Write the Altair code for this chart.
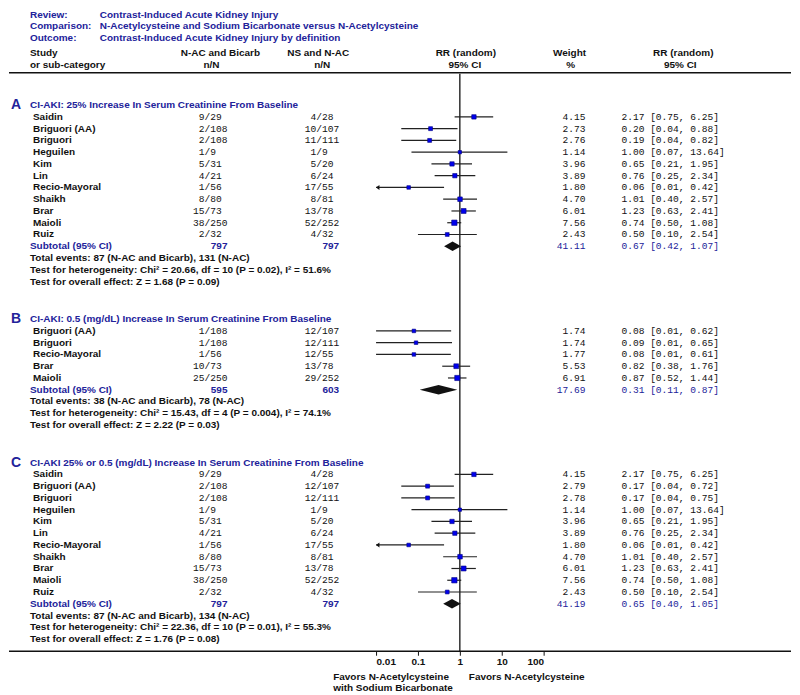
import altair as alt
import pandas as pd

NAVY = "#22229a"
BLACK = "#111111"
SANS = "Liberation Sans"
MONO = "Liberation Mono"
W, H = 784, 644

# ---------------- data ----------------
sec_letters = ["A", "B", "C"]
sec_titles = [
    "CI-AKI: 25% Increase In Serum Creatinine From Baseline",
    "CI-AKI: 0.5 (mg/dL) Increase In Serum Creatinine From Baseline",
    "CI-AKI 25% or 0.5 (mg/dL) Increase In Serum Creatinine From Baseline",
]

a_names = ["Saidin", "Briguori (AA)", "Briguori", "Heguilen", "Kim", "Lin",
           "Recio-Mayoral", "Shaikh", "Brar", "Maioli", "Ruiz"]
a_e1 = [9, 2, 2, 1, 5, 4, 1, 8, 15, 38, 2]
a_n1 = [29, 108, 108, 9, 31, 21, 56, 80, 73, 250, 32]
a_e2 = [4, 10, 11, 1, 5, 6, 17, 8, 13, 52, 4]
a_n2 = [28, 107, 111, 9, 20, 24, 55, 81, 78, 252, 32]
a_w = [4.15, 2.73, 2.76, 1.14, 3.96, 3.89, 1.80, 4.70, 6.01, 7.56, 2.43]
a_rr = [2.17, 0.20, 0.19, 1.00, 0.65, 0.76, 0.06, 1.01, 1.23, 0.74, 0.50]
a_lo = [0.75, 0.04, 0.04, 0.07, 0.21, 0.25, 0.01, 0.40, 0.63, 0.50, 0.10]
a_hi = [6.25, 0.88, 0.82, 13.64, 1.95, 2.34, 0.42, 2.57, 2.41, 1.08, 2.54]
a_arrow = [False, False, False, False, False, False, True, False, False, False, False]

b_names = ["Briguori (AA)", "Briguori", "Recio-Mayoral", "Brar", "Maioli"]
b_e1 = [1, 1, 1, 10, 25]
b_n1 = [108, 108, 56, 73, 250]
b_e2 = [12, 12, 12, 13, 29]
b_n2 = [107, 111, 55, 78, 252]
b_w = [1.74, 1.74, 1.77, 5.53, 6.91]
b_rr = [0.08, 0.09, 0.08, 0.82, 0.87]
b_lo = [0.01, 0.01, 0.01, 0.38, 0.52]
b_hi = [0.62, 0.65, 0.61, 1.76, 1.44]
b_arrow = [False, False, False, False, False]

c_names = ["Saidin", "Briguori (AA)", "Briguori", "Heguilen", "Kim", "Lin",
           "Recio-Mayoral", "Shaikh", "Brar", "Maioli", "Ruiz"]
c_e1 = [9, 2, 2, 1, 5, 4, 1, 8, 15, 38, 2]
c_n1 = [29, 108, 108, 9, 31, 21, 56, 80, 73, 250, 32]
c_e2 = [4, 12, 12, 1, 5, 6, 17, 8, 13, 52, 4]
c_n2 = [28, 107, 111, 9, 20, 24, 55, 81, 78, 252, 32]
c_w = [4.15, 2.79, 2.78, 1.14, 3.96, 3.89, 1.80, 4.70, 6.01, 7.56, 2.43]
c_rr = [2.17, 0.17, 0.17, 1.00, 0.65, 0.76, 0.06, 1.01, 1.23, 0.74, 0.50]
c_lo = [0.75, 0.04, 0.04, 0.07, 0.21, 0.25, 0.01, 0.40, 0.63, 0.50, 0.10]
c_hi = [6.25, 0.72, 0.75, 13.64, 1.95, 2.34, 0.42, 2.57, 2.41, 1.08, 2.54]
c_arrow = [False, False, False, False, False, False, True, False, False, False, False]

sub_tot1 = [797, 595, 797]
sub_tot2 = [797, 603, 797]
sub_w = [41.11, 17.69, 41.19]
sub_rr = [0.67, 0.31, 0.65]
sub_lo = [0.42, 0.11, 0.40]
sub_hi = [1.07, 0.87, 1.05]

sum_lines = [
    ["Total events: 87 (N-AC and Bicarb), 131 (N-AC)",
     "Test for heterogeneity: Chi\u00b2 = 20.66, df = 10 (P = 0.02), I\u00b2 = 51.6%",
     "Test for overall effect: Z = 1.68 (P = 0.09)"],
    ["Total events: 38 (N-AC and Bicarb), 78 (N-AC)",
     "Test for heterogeneity: Chi\u00b2 = 15.43, df = 4 (P = 0.004), I\u00b2 = 74.1%",
     "Test for overall effect: Z = 2.22 (P = 0.03)"],
    ["Total events: 87 (N-AC and Bicarb), 134 (N-AC)",
     "Test for heterogeneity: Chi\u00b2 = 22.36, df = 10 (P = 0.01), I\u00b2 = 55.3%",
     "Test for overall effect: Z = 1.76 (P = 0.08)"],
]

axis_ticks = [0.01, 0.1, 1, 10, 100]

# ---------------- build tables ----------------
sections = [
    (a_names, a_e1, a_n1, a_e2, a_n2, a_w, a_rr, a_lo, a_hi, a_arrow),
    (b_names, b_e1, b_n1, b_e2, b_n2, b_w, b_rr, b_lo, b_hi, b_arrow),
    (c_names, c_e1, c_n1, c_e2, c_n2, c_w, c_rr, c_lo, c_hi, c_arrow),
]
GAP = 3.2
study_rows, sub_rows, head_rows, line_rows, diamond = [], [], [], [], []
r = 0.0
for si, (nm, e1, n1, e2, n2, w, rr, lo, hi, ar) in enumerate(sections):
    head_rows.append({"row": r, "letter": sec_letters[si], "title": sec_titles[si]})
    for i in range(len(nm)):
        study_rows.append({
            "row": r + 1 + i, "name": nm[i],
            "num1": str(e1[i]), "den1": "/" + str(n1[i]),
            "num2": str(e2[i]), "den2": "/" + str(n2[i]),
            "w": w[i], "wtxt": f"{w[i]:.2f}",
            "rr": rr[i], "lo": lo[i], "hi": hi[i], "arrow": ar[i],
            "ci": f"{rr[i]:.2f} [{lo[i]:.2f}, {hi[i]:.2f}]",
        })
    rs = r + 1 + len(nm)
    sub_rows.append({
        "row": rs, "label": "Subtotal (95% CI)",
        "t1": str(sub_tot1[si]), "t2": str(sub_tot2[si]),
        "wtxt": f"{sub_w[si]:.2f}",
        "ci": f"{sub_rr[si]:.2f} [{sub_lo[si]:.2f}, {sub_hi[si]:.2f}]",
    })
    diamond += [
        {"g": si, "x": sub_lo[si], "y1": rs, "y2": rs},
        {"g": si, "x": sub_rr[si], "y1": rs - 0.4, "y2": rs + 0.4},
        {"g": si, "x": sub_hi[si], "y1": rs, "y2": rs},
    ]
    for j, t in enumerate(sum_lines[si]):
        line_rows.append({"row": rs + 1 + j, "text": t})
    r = rs + 3 + GAP

studies = pd.DataFrame(study_rows)
subs = pd.DataFrame(sub_rows)
heads = pd.DataFrame(head_rows)
lines = pd.DataFrame(line_rows)
dia = pd.DataFrame(diamond)
one = pd.DataFrame({"v": [1]})

ymax = r - 3 - GAP + 2  # last summary row
yscale = alt.Scale(domain=[0, ymax], range=[96.5, 620])
xscale = alt.Scale(type="log", domain=[0.01, 100], range=[368, 536])
xaxis = alt.Axis(values=axis_ticks, format="~g", title=None, domain=False, grid=False,
                 ticks=True, tickSize=4, tickColor=BLACK, tickWidth=1,
                 labelFont=SANS, labelFontSize=10, labelFontWeight="bold",
                 labelColor=BLACK, labelPadding=1)
Y = alt.Y("row:Q", scale=yscale, axis=None)


def col_text(df, field, x, align="left", font=SANS, size=10, weight="bold", color=BLACK):
    return alt.Chart(df).mark_text(
        align=align, baseline="middle", font=font, fontSize=size,
        fontWeight=weight, color=color,
    ).encode(x=alt.value(x), y=Y, text=f"{field}:N")


dummy = pd.DataFrame({"k": [0]})


def fixed(text, x, y, align="left", color=BLACK, size=10):
    return alt.Chart(dummy).mark_text(
        text=text, align=align, baseline="middle", font=SANS, fontSize=size,
        fontWeight="bold", color=color,
    ).encode(x=alt.value(x), y=alt.value(y))


layers = []

# top header block
layers += [
    fixed("Review:", 21, 6, color=NAVY),
    fixed("Comparison:", 21, 17.5, color=NAVY),
    fixed("Outcome:", 21, 29, color=NAVY),
    fixed("Contrast-Induced Acute Kidney Injury", 91, 6, color=NAVY),
    fixed("N-Acetylcysteine and Sodium Bicarbonate versus N-Acetylcysteine", 91, 17.5, color=NAVY),
    fixed("Contrast-Induced Acute Kidney Injury by definition", 91, 29, color=NAVY),
    fixed("Study", 21, 44),
    fixed("or sub-category", 21, 56),
    fixed("N-AC and Bicarb", 212, 44, align="center"),
    fixed("n/N", 203, 56, align="center"),
    fixed("NS and N-AC", 310, 44, align="center"),
    fixed("n/N", 314, 56, align="center"),
    fixed("RR (random)", 458, 44, align="center"),
    fixed("95% CI", 457, 56, align="center"),
    fixed("Weight", 562, 44, align="center"),
    fixed("%", 563, 56, align="center"),
    fixed("RR (random)", 676, 44, align="center"),
    fixed("95% CI", 673, 56, align="center"),
    fixed("Favors N-Acetylcysteine", 325, 670),
    fixed("with Sodium Bicarbonate", 325, 681),
    fixed("Favors N-Acetylcysteine", 461, 670),
]

# horizontal rules (header separator and bottom axis line)
layers.append(alt.Chart(dummy).mark_rule(color=BLACK, strokeWidth=1.6).encode(
    x=alt.value(0), x2=alt.value(W), y=alt.value(64)))
layers.append(alt.Chart(dummy).mark_rule(color=BLACK, strokeWidth=1.6).encode(
    x=alt.value(0), x2=alt.value(W), y=alt.value(H)))

# line of no effect
layers.append(alt.Chart(one).mark_rule(color=BLACK, strokeWidth=1.3).encode(
    x=alt.X("v:Q", scale=xscale, axis=xaxis), y=alt.value(65), y2=alt.value(H)))

# confidence interval whiskers
layers.append(alt.Chart(studies).mark_rule(color="#222222", strokeWidth=1.2).encode(
    x=alt.X("lo:Q", scale=xscale, axis=xaxis), x2="hi:Q", y=Y))

# arrows for truncated intervals
layers.append(alt.Chart(studies).transform_filter("datum.arrow").mark_point(
    shape="M0,0L1,-0.75L1,0.75Z", filled=True, color=BLACK, opacity=1, size=45).encode(
    x=alt.X("lo:Q", scale=xscale, axis=xaxis), y=Y))

# study squares
layers.append(alt.Chart(studies).mark_point(
    shape="square", filled=True, color="#0000ee", opacity=1,
    stroke="#000080", strokeWidth=0.6).encode(
    x=alt.X("rr:Q", scale=xscale, axis=xaxis), y=Y,
    size=alt.Size("w:Q", scale=alt.Scale(domain=[0, 8], range=[8, 30]), legend=None)))

# subtotal diamonds
layers.append(alt.Chart(dia).mark_area(color=BLACK, opacity=1).encode(
    x=alt.X("x:Q", scale=xscale, axis=xaxis),
    y=alt.Y("y1:Q", scale=yscale, axis=None), y2="y2:Q", detail="g:N"))

# section headers
layers.append(col_text(heads, "letter", 2, size=14, color=NAVY))
layers.append(col_text(heads, "title", 21, color=NAVY))

# study rows text
layers.append(col_text(studies, "name", 24))
layers.append(col_text(studies, "num1", 196, align="right", font=MONO, size=9.6, weight="normal"))
layers.append(col_text(studies, "den1", 196, align="left", font=MONO, size=9.6, weight="normal"))
layers.append(col_text(studies, "num2", 308, align="right", font=MONO, size=9.6, weight="normal"))
layers.append(col_text(studies, "den2", 308, align="left", font=MONO, size=9.6, weight="normal"))
layers.append(col_text(studies, "wtxt", 578, align="right", font=MONO, size=9.6, weight="normal"))
layers.append(col_text(studies, "ci", 614, align="left", font=MONO, size=9.6, weight="normal"))

# subtotal rows text
layers.append(col_text(subs, "label", 21, color=NAVY))
layers.append(col_text(subs, "t1", 219, align="right", color=NAVY))
layers.append(col_text(subs, "t2", 331, align="right", color=NAVY))
layers.append(col_text(subs, "wtxt", 578, align="right", font=MONO, size=9.6, weight="normal", color=NAVY))
layers.append(col_text(subs, "ci", 614, align="left", font=MONO, size=9.6, weight="normal", color=NAVY))

# summary statistics lines
layers.append(col_text(lines, "text", 21))

chart = alt.layer(*layers).properties(
    width=W, height=H, padding=0, background="white"
).configure_view(stroke=None)

chart.save("out.html", embed_options={"renderer": "svg", "actions": False})
